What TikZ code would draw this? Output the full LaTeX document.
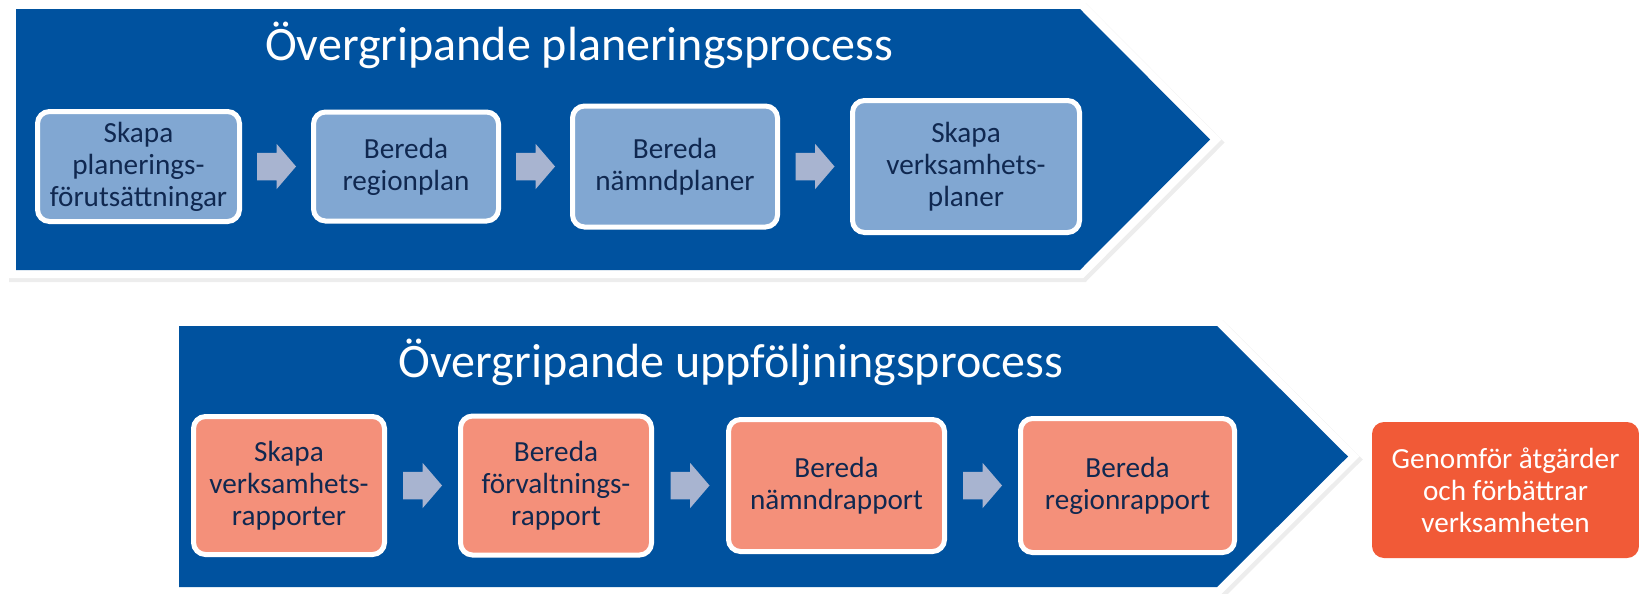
\documentclass[tikz,border=0pt]{standalone}
\usepackage{fontspec}
\setmainfont{Carlito}
\definecolor{procblue}{RGB}{0,82,159}
\definecolor{planfill}{RGB}{129,167,210}
\definecolor{followfill}{RGB}{244,144,122}
\definecolor{boxtext}{RGB}{16,40,80}
\definecolor{arrowgrey}{RGB}{168,180,208}
\definecolor{actred}{RGB}{241,90,55}
\begin{document}
\begin{tikzpicture}[x=0.5pt,y=-0.5pt,
  banner/.style={fill=procblue,preaction={draw=white,line width=8pt,line join=miter}},
  bannershadow/.style={draw=black!7,fill=black!7,line width=9pt,shift={(2,3)}},
  stepbox/.style={draw=white,line width=2.5pt,rounded corners=6pt,text=boxtext,align=center,
    inner sep=0pt,font=\fontsize{14.6pt}{16pt}\selectfont},
  planbox/.style={stepbox,fill=planfill},
  followbox/.style={stepbox,fill=followfill},
  blockarrow/.style={fill=arrowgrey},
  proctitle/.style={text=white,anchor=base,font=\fontsize{24pt}{28pt}\selectfont}]
\useasboundingbox (0,0) rectangle (1639,594);
\path[bannershadow] (16,9) -- (1080,9) -- (1210,139.5) -- (1080,270) -- (16,270) -- cycle;
\path[banner] (16,9) -- (1080,9) -- (1210,139.5) -- (1080,270) -- (16,270) -- cycle;
\path[bannershadow] (179,326) -- (1217,326) -- (1348,456.5) -- (1217,587) -- (179,587) -- cycle;
\path[banner] (179,326) -- (1217,326) -- (1348,456.5) -- (1217,587) -- (179,587) -- cycle;
\node[proctitle] (plantitle) at (579,60) {Övergripande planeringsprocess};
\node[proctitle] (followtitle) at (731,377) {Övergripande uppföljningsprocess};
\node[planbox,minimum width=101pt,minimum height=55pt] (b1) at (138.5,166.5) {Skapa\\planerings-\\förutsättningar};
\node[planbox,minimum width=92.5pt,minimum height=54.5pt] (b2) at (406,166.5) {Bereda\\regionplan};
\node[planbox,minimum width=102.5pt,minimum height=60.5pt] (b3) at (675,166.5) {Bereda\\nämndplaner};
\node[planbox,minimum width=113.5pt,minimum height=66pt] (b4) at (966,166.5) {Skapa\\verksamhets-\\planer};
\node[followbox,minimum width=95.5pt,minimum height=69pt] (c1) at (289,485.5) {Skapa\\verksamhets-\\rapporter};
\node[followbox,minimum width=95.5pt,minimum height=69.5pt] (c2) at (556,485.5) {Bereda\\förvaltnings-\\rapport};
\node[followbox,minimum width=108pt,minimum height=66pt] (c3) at (836.5,485.5) {Bereda\\nämndrapport};
\node[followbox,minimum width=107pt,minimum height=67pt] (c4) at (1127.5,485.5) {Bereda\\regionrapport};
\node[fill=actred,rounded corners=6pt,text=white,align=center,inner sep=0pt,
  minimum width=133.5pt,minimum height=68pt,font=\fontsize{14.6pt}{16pt}\selectfont] (act) at (1505.5,490)
  {Genomför åtgärder\\och förbättrar\\verksamheten};
\foreach \a/\b in {b1/b2,b2/b3,b3/b4,c1/c2,c2/c3,c3/c4}{
\path (\a) -- coordinate[midway] (mid) (\b);
\fill[blockarrow] ([shift={(-19.5,-13.75)}]mid) -- ([shift={(0,-13.75)}]mid) -- ([shift={(0,-22.75)}]mid)
  -- ([shift={(19.5,0)}]mid) -- ([shift={(0,22.75)}]mid) -- ([shift={(0,13.75)}]mid)
  -- ([shift={(-19.5,13.75)}]mid) -- cycle;
}
\end{tikzpicture}
\end{document}
